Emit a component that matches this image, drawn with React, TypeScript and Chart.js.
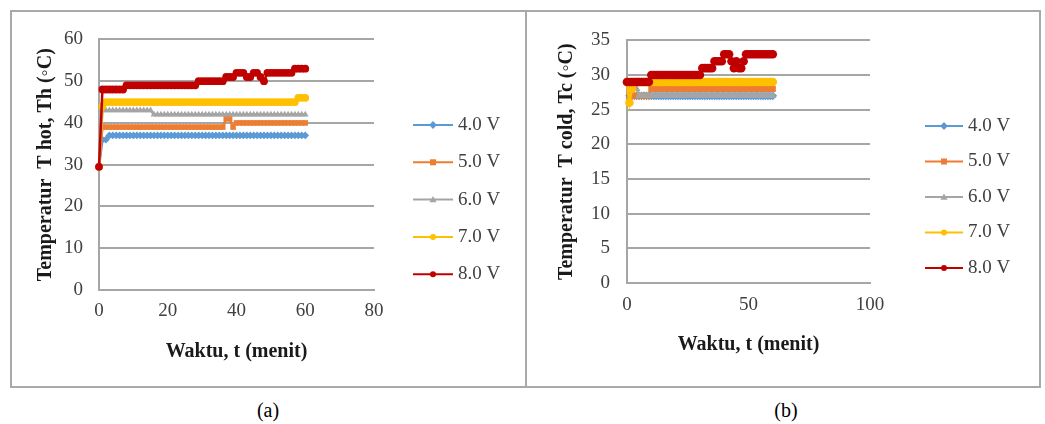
import React, { useEffect, useRef } from 'react';
import { Chart, registerables } from 'chart.js';

Chart.register(...registerables);

// ---------- DATA ----------
const timeMinutes = [
  0, 1, 2, 3, 4, 5, 6, 7, 8, 9,
  10, 11, 12, 13, 14, 15, 16, 17, 18, 19,
  20, 21, 22, 23, 24, 25, 26, 27, 28, 29,
  30, 31, 32, 33, 34, 35, 36, 37, 38, 39,
  40, 41, 42, 43, 44, 45, 46, 47, 48, 49,
  50, 51, 52, 53, 54, 55, 56, 57, 58, 59,
  60,
];

const seriesLabels = ['4.0 V', '5.0 V', '6.0 V', '7.0 V', '8.0 V'];
const seriesColors = ['#5B9BD5', '#ED7D31', '#A5A5A5', '#FFC000', '#C00000'];
const seriesMarkers = ['rectRot', 'rect', 'triangle', 'circle', 'circle'];

// (a) T hot, Th (°C)
const hot40V = [
  29.5, 36, 36, 37, 37, 37, 37, 37, 37, 37,
  37, 37, 37, 37, 37, 37, 37, 37, 37, 37,
  37, 37, 37, 37, 37, 37, 37, 37, 37, 37,
  37, 37, 37, 37, 37, 37, 37, 37, 37, 37,
  37, 37, 37, 37, 37, 37, 37, 37, 37, 37,
  37, 37, 37, 37, 37, 37, 37, 37, 37, 37,
  37,
];
const hot50V = [
  29.5, 39, 39, 39, 39, 39, 39, 39, 39, 39,
  39, 39, 39, 39, 39, 39, 39, 39, 39, 39,
  39, 39, 39, 39, 39, 39, 39, 39, 39, 39,
  39, 39, 39, 39, 39, 39, 39, 41, 41, 39,
  40, 40, 40, 40, 40, 40, 40, 40, 40, 40,
  40, 40, 40, 40, 40, 40, 40, 40, 40, 40,
  40,
];
const hot60V = [
  29.5, 43, 43, 43, 43, 43, 43, 43, 43, 43,
  43, 43, 43, 43, 43, 43, 42, 42, 42, 42,
  42, 42, 42, 42, 42, 42, 42, 42, 42, 42,
  42, 42, 42, 42, 42, 42, 42, 42, 42, 42,
  42, 42, 42, 42, 42, 42, 42, 42, 42, 42,
  42, 42, 42, 42, 42, 42, 42, 42, 42, 42,
  42,
];
const hot70V = [
  29.5, 44, 45, 45, 45, 45, 45, 45, 45, 45,
  45, 45, 45, 45, 45, 45, 45, 45, 45, 45,
  45, 45, 45, 45, 45, 45, 45, 45, 45, 45,
  45, 45, 45, 45, 45, 45, 45, 45, 45, 45,
  45, 45, 45, 45, 45, 45, 45, 45, 45, 45,
  45, 45, 45, 45, 45, 45, 45, 45, 46, 46,
  46,
];
const hot80V = [
  29.5, 48, 48, 48, 48, 48, 48, 48, 49, 49,
  49, 49, 49, 49, 49, 49, 49, 49, 49, 49,
  49, 49, 49, 49, 49, 49, 49, 49, 49, 50,
  50, 50, 50, 50, 50, 50, 50, 51, 51, 51,
  52, 52, 52, 51, 51, 52, 52, 51, 50, 52,
  52, 52, 52, 52, 52, 52, 52, 53, 53, 53,
  53,
];

// (b) T cold, Tc (°C)
const cold40V = [
  29, 27, 27, 27, 27, 27, 27, 27, 27, 27,
  27, 27, 27, 27, 27, 27, 27, 27, 27, 27,
  27, 27, 27, 27, 27, 27, 27, 27, 27, 27,
  27, 27, 27, 27, 27, 27, 27, 27, 27, 27,
  27, 27, 27, 27, 27, 27, 27, 27, 27, 27,
  27, 27, 27, 27, 27, 27, 27, 27, 27, 27,
  27,
];
const cold50V = [
  29, 27, 27, 27, 27, 27, 27, 27, 27, 27,
  28, 28, 28, 28, 28, 28, 28, 28, 28, 28,
  28, 28, 28, 28, 28, 28, 28, 28, 28, 28,
  28, 28, 28, 28, 28, 28, 28, 28, 28, 28,
  28, 28, 28, 28, 28, 28, 28, 28, 28, 28,
  28, 28, 28, 28, 28, 28, 28, 28, 28, 28,
  28,
];
const cold60V = [
  29, 28, 28, 28, 28, 27, 27, 27, 27, 27,
  27, 27, 27, 27, 27, 27, 27, 27, 27, 27,
  27, 27, 27, 27, 27, 27, 27, 27, 27, 27,
  27, 27, 27, 27, 27, 27, 27, 27, 27, 27,
  27, 27, 27, 27, 27, 27, 27, 27, 27, 27,
  27, 27, 27, 27, 27, 27, 27, 27, 27, 27,
  27,
];
const cold70V = [
  29, 26, 28, 29, 29, 29, 29, 29, 29, 29,
  29, 29, 29, 29, 29, 29, 29, 29, 29, 29,
  29, 29, 29, 29, 29, 29, 29, 29, 29, 29,
  29, 29, 29, 29, 29, 29, 29, 29, 29, 29,
  29, 29, 29, 29, 29, 29, 29, 29, 29, 29,
  29, 29, 29, 29, 29, 29, 29, 29, 29, 29,
  29,
];
const cold80V = [
  29, 29, 29, 29, 29, 29, 29, 29, 29, 29,
  30, 30, 30, 30, 30, 30, 30, 30, 30, 30,
  30, 30, 30, 30, 30, 30, 30, 30, 30, 30,
  30, 31, 31, 31, 31, 31, 32, 32, 32, 32,
  33, 33, 33, 32, 31, 32, 31, 31, 32, 33,
  33, 33, 33, 33, 33, 33, 33, 33, 33, 33,
  33,
];

const hotYTicks = [0, 10, 20, 30, 40, 50, 60];
const hotXTicks = [0, 20, 40, 60, 80];
const coldYTicks = [0, 5, 10, 15, 20, 25, 30, 35];
const coldXTicks = [0, 50, 100];

const hotTitleY = 'Temperatur  T hot, Th (◦C)';
const coldTitleY = 'Temperatur  T cold, Tc (◦C)';
const titleX = 'Waktu, t (menit)';

// ---------- HELPERS ----------
const FONT = '"Liberation Serif", "Times New Roman", Times, serif';

function drawMarker(ctx: CanvasRenderingContext2D, style: string, x: number, y: number, r: number, color: string) {
  ctx.fillStyle = color;
  ctx.beginPath();
  if (style === 'circle') {
    ctx.arc(x, y, r, 0, Math.PI * 2);
  } else if (style === 'rect') {
    ctx.rect(x - r, y - r, r * 2, r * 2);
  } else if (style === 'rectRot') {
    ctx.moveTo(x, y - r * 1.3);
    ctx.lineTo(x + r * 1.3, y);
    ctx.lineTo(x, y + r * 1.3);
    ctx.lineTo(x - r * 1.3, y);
    ctx.closePath();
  } else if (style === 'triangle') {
    ctx.moveTo(x, y - r * 1.2);
    ctx.lineTo(x + r * 1.2, y + r * 0.9);
    ctx.lineTo(x - r * 1.2, y + r * 0.9);
    ctx.closePath();
  }
  ctx.fill();
}

const lineLegendPlugin = {
  id: 'lineLegend',
  afterDraw(chart: any, _args: any, opts: any) {
    const ctx: CanvasRenderingContext2D = chart.ctx;
    chart.data.datasets.forEach((ds: any, i: number) => {
      const cy = opts.y + i * opts.gap;
      ctx.save();
      ctx.strokeStyle = ds.borderColor;
      ctx.lineWidth = 2;
      ctx.beginPath();
      ctx.moveTo(opts.x, cy);
      ctx.lineTo(opts.x + opts.lineLen, cy);
      ctx.stroke();
      drawMarker(ctx, ds.pointStyle, opts.x + opts.lineLen / 2, cy, opts.radius, ds.borderColor);
      ctx.fillStyle = opts.color;
      ctx.font = opts.font;
      ctx.textAlign = 'left';
      ctx.textBaseline = 'middle';
      ctx.fillText(ds.label, opts.x + opts.lineLen + opts.textGap, cy);
      ctx.restore();
    });
  },
};

type PanelSpec = {
  series: number[][];
  xTicks: number[];
  yTicks: number[];
  yTitle: string;
  yScaleWidth: number;
  xScaleHeight: number;
  padding: { left: number; top: number; right: number; bottom: number };
  yTitlePad: number;
  xTitlePad: number;
  yTickPad: number;
  xTickPad: number;
  pointRadius: number;
  legend: { x: number; y: number; gap: number; lineLen: number; textGap: number; radius: number };
};

function buildConfig(spec: PanelSpec): any {
  const datasets = spec.series.map((vals, i) => ({
    label: seriesLabels[i],
    data: vals.map((v, j) => ({ x: timeMinutes[j], y: v })),
    borderColor: seriesColors[i],
    backgroundColor: seriesColors[i],
    pointBackgroundColor: seriesColors[i],
    pointBorderColor: seriesColors[i],
    pointBorderWidth: 0,
    pointStyle: seriesMarkers[i],
    pointRadius: spec.pointRadius,
    borderWidth: 2.5,
    tension: 0,
    clip: false,
    order: spec.series.length - i,
  }));
  const gridColor = '#a6a6a6';
  return {
    type: 'line',
    data: { datasets },
    plugins: [lineLegendPlugin],
    options: {
      animation: false,
      responsive: false,
      maintainAspectRatio: false,
      layout: { padding: spec.padding },
      plugins: {
        legend: { display: false },
        tooltip: { enabled: false },
        lineLegend: {
          ...spec.legend,
          font: `19px ${FONT}`,
          color: '#404040',
        },
      },
      scales: {
        x: {
          type: 'linear',
          min: spec.xTicks[0],
          max: spec.xTicks[spec.xTicks.length - 1],
          afterBuildTicks: (scale: any) => {
            scale.ticks = spec.xTicks.map((v) => ({ value: v }));
          },
          afterFit: (scale: any) => {
            scale.height = spec.xScaleHeight;
          },
          grid: { display: false, drawTicks: false },
          border: { display: true, color: gridColor, width: 2 },
          ticks: {
            padding: spec.xTickPad,
            color: '#404040',
            font: { family: FONT, size: 19 },
            maxRotation: 0,
          },
          title: {
            display: true,
            text: titleX,
            color: '#1a1a1a',
            font: { family: FONT, size: 20, weight: 'bold' },
            padding: { top: 0, bottom: spec.xTitlePad },
          },
        },
        y: {
          type: 'linear',
          min: spec.yTicks[0],
          max: spec.yTicks[spec.yTicks.length - 1],
          afterBuildTicks: (scale: any) => {
            scale.ticks = spec.yTicks.map((v) => ({ value: v }));
          },
          afterFit: (scale: any) => {
            scale.width = spec.yScaleWidth;
          },
          grid: { display: true, drawTicks: false, color: gridColor, lineWidth: 2 },
          border: { display: true, color: gridColor, width: 2 },
          ticks: {
            padding: spec.yTickPad,
            color: '#404040',
            font: { family: FONT, size: 19 },
          },
          title: {
            display: true,
            text: spec.yTitle,
            color: '#1a1a1a',
            font: { family: FONT, size: 20, weight: 'bold' },
            padding: { top: spec.yTitlePad, bottom: 0 },
          },
        },
      },
    },
  };
}

const hotSpec: PanelSpec = {
  series: [hot40V, hot50V, hot60V, hot70V, hot80V],
  xTicks: hotXTicks,
  yTicks: hotYTicks,
  yTitle: hotTitleY,
  yScaleWidth: 87,
  xScaleHeight: 96,
  padding: { left: 0, top: 25, right: 149, bottom: 0 },
  yTitlePad: 22,
  xTitlePad: 22,
  yTickPad: 16,
  xTickPad: 10,
  pointRadius: 3.9,
  legend: { x: 401, y: 113, gap: 37.3, lineLen: 40, textGap: 5, radius: 3 },
};

const coldSpec: PanelSpec = {
  series: [cold40V, cold50V, cold60V, cold70V, cold80V],
  xTicks: coldXTicks,
  yTicks: coldYTicks,
  yTitle: coldTitleY,
  yScaleWidth: 98,
  xScaleHeight: 103,
  padding: { left: 0, top: 25, right: 168, bottom: 0 },
  yTitlePad: 26,
  xTitlePad: 29,
  yTickPad: 17,
  xTickPad: 11,
  pointRadius: 4.3,
  legend: { x: 396, y: 114, gap: 35.5, lineLen: 38, textGap: 5, radius: 3 },
};

function ChartCanvas({ spec, left, top, width, height }: { spec: PanelSpec; left: number; top: number; width: number; height: number }) {
  const ref = useRef<HTMLCanvasElement | null>(null);
  useEffect(() => {
    if (!ref.current) return;
    const chart = new Chart(ref.current, buildConfig(spec));
    return () => chart.destroy();
  }, [spec]);
  return (
    <canvas
      ref={ref}
      width={width}
      height={height}
      style={{ position: 'absolute', left, top, width, height }}
    />
  );
}

export default function App() {
  const border = '2px solid #a9a9a9';
  return (
    <div style={{ position: 'absolute', left: 0, top: 0, width: 1045, height: 424, background: '#ffffff', fontFamily: FONT }}>
      <div style={{ position: 'absolute', left: 10, top: 10, width: 517, height: 378, border, boxSizing: 'border-box' }} />
      <div style={{ position: 'absolute', left: 527, top: 10, width: 514, height: 378, border, borderLeft: 'none', boxSizing: 'border-box' }} />
      <ChartCanvas spec={hotSpec} left={12} top={12} width={511} height={374} />
      <ChartCanvas spec={coldSpec} left={529} top={12} width={509} height={374} />
      <div style={{ position: 'absolute', left: 268, top: 398, transform: 'translateX(-50%)', fontSize: 20, color: '#000', lineHeight: '24px' }}>(a)</div>
      <div style={{ position: 'absolute', left: 786, top: 398, transform: 'translateX(-50%)', fontSize: 20, color: '#000', lineHeight: '24px' }}>(b)</div>
    </div>
  );
}
